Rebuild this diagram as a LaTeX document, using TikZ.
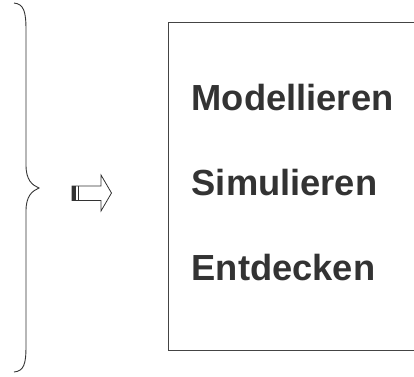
\documentclass[tikz,border=0pt]{standalone}
\usepackage{fontspec}
\setmainfont{Liberation Sans}
\definecolor{ink}{HTML}{333333}
\definecolor{frame}{HTML}{444444}
\tikzset{
  word/.style={anchor=base west, inner sep=0pt, text=ink, font=\fontsize{36.3}{36.3}\selectfont\bfseries},
  bracestroke/.style={draw=ink, line width=0.9pt},
}
\begin{document}
\begin{tikzpicture}[x=1pt,y=-1pt]
\useasboundingbox (0,0) rectangle (414,376);
% brace
\draw[bracestroke] (14,3) .. controls (24,4) and (26,12) .. (26,30)
  -- (26,165) .. controls (26,180) and (32,185) .. (39,188)
  .. controls (32,191) and (26,196) .. (26,211)
  -- (26,346) .. controls (26,364) and (24,371) .. (14,372);
% arrow
\draw[draw=ink, line width=0.8pt, fill=white] (72,186) -- (101,186) -- (101,175) -- (111.5,193) -- (101,211) -- (101,200.5) -- (72,200.5) -- cycle;
\fill[ink] (72,186) rectangle (76,200.5);
\draw[ink, line width=0.9pt] (78.3,186) -- (78.3,200.5);
% box (right side runs off the picture)
\draw[draw=frame, line width=0.9pt] (414,22.5) -- (168.5,22.5) -- (168.5,350) -- (414,350);
\node[word] (m) at (191.5,110) {Modellieren};
\node[word] (s) at (191.5,195) {Simulieren};
\node[word] (e) at (191.5,280) {Entdecken};
\end{tikzpicture}
\end{document}
